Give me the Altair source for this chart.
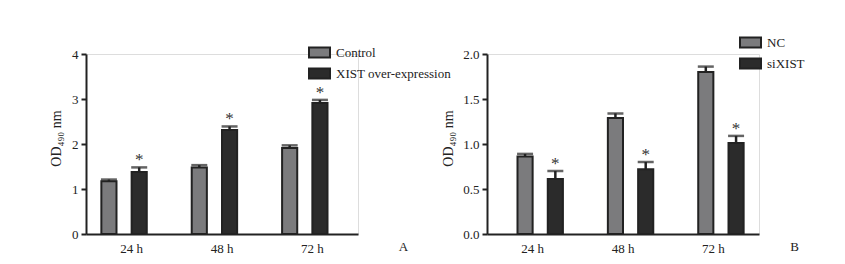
import altair as alt
import pandas as pd

times = ["24 h", "48 h", "72 h"]

# Panel A
a_groups = ["Control", "XIST over-expression"]
a_control = [1.17, 1.48, 1.91]
a_control_err = [0.04, 0.05, 0.06]
a_xist = [1.38, 2.31, 2.91]
a_xist_err = [0.10, 0.08, 0.07]

# Panel B
b_groups = ["NC", "siXIST"]
b_nc = [0.86, 1.29, 1.80]
b_nc_err = [0.03, 0.05, 0.06]
b_si = [0.61, 0.72, 1.01]
b_si_err = [0.09, 0.08, 0.08]

FONT = "Liberation Serif"
TXT = "#222222"
FILLS = ["#7b7b7d", "#2b2b2b"]


def make_df(groups, v1, e1, v2, e2):
    rows = []
    for i, t in enumerate(times):
        rows.append(dict(time=t, group=groups[0], value=v1[i], err=e1[i], top=v1[i] + e1[i], star=""))
        rows.append(dict(time=t, group=groups[1], value=v2[i], err=e2[i], top=v2[i] + e2[i], star="*"))
    return pd.DataFrame(rows)


def panel(df, groups, ymax, ytick, yfmt, legend_x, legend_y, letter, letter_x, ytitle_x):
    x = alt.X("time:N", sort=times,
              scale=alt.Scale(paddingInner=0.33, paddingOuter=0.17),
              axis=alt.Axis(title=letter, labelAngle=0, ticks=False, labelPadding=8,
                            labelFont=FONT, labelFontSize=13, labelColor=TXT,
                            domainColor=TXT, domainWidth=2,
                            titleFont=FONT, titleFontSize=13, titleColor=TXT, titleFontWeight="normal",
                            titleX=letter_x, titleY=12, titleAlign="center", titleBaseline="middle"))
    xo = alt.XOffset("group:N", sort=groups, scale=alt.Scale(paddingInner=0, paddingOuter=0))
    y = alt.Y("value:Q",
              scale=alt.Scale(domain=[0, ymax], nice=False),
              axis=alt.Axis(title="OD₄₉₀ nm", values=ytick, format=yfmt, grid=False,
                            tickSize=5, tickWidth=2, tickColor=TXT, domainColor=TXT, domainWidth=2,
                            labelFont=FONT, labelFontSize=13, labelColor=TXT, labelPadding=3,
                            titleFont=FONT, titleFontSize=14, titleColor=TXT, titleFontWeight="normal",
                            titleX=ytitle_x, titleY=84, titleAlign="center", titleBaseline="middle"))
    color = alt.Color("group:N", sort=groups,
                      scale=alt.Scale(domain=groups, range=FILLS),
                      legend=alt.Legend(title=None, orient="none", legendX=legend_x, legendY=legend_y,
                                        symbolType="M-1,-0.48H1V0.48H-1Z", symbolSize=441,
                                        symbolStrokeColor=TXT, symbolStrokeWidth=2, symbolOpacity=1,
                                        labelFont=FONT, labelFontSize=13, labelColor=TXT,
                                        labelOffset=5, rowPadding=0))
    base = alt.Chart(df)
    bars = base.mark_bar(stroke=TXT, strokeWidth=2).encode(x=x, xOffset=xo, y=y, color=color)
    err = base.mark_rule(color=TXT, strokeWidth=2.5).encode(
        x=x, xOffset=xo, y=alt.Y("value:Q"), y2="top:Q")
    cap = base.mark_tick(color=TXT, thickness=2.5, size=16, orient="horizontal").encode(
        x=x, xOffset=xo, y=alt.Y("top:Q"))
    stars = base.mark_text(font=FONT, fontSize=17, color="#333333", baseline="alphabetic", dy=-2).encode(
        x=x, xOffset=xo, y=alt.Y("top:Q"), text="star:N")
    return alt.layer(bars, err, cap, stars).properties(width=272, height=180)


dfa = make_df(a_groups, a_control, a_control_err, a_xist, a_xist_err)
dfb = make_df(b_groups, b_nc, b_nc_err, b_si, b_si_err)

pa = panel(dfa, a_groups, 4, [0, 1, 2, 3, 4], "d", 222, -13, "A", 317, -30)
pb = panel(dfb, b_groups, 2, [0, 0.5, 1.0, 1.5, 2.0], ".1f", 252, -23, "B", 307, -39)

chart = alt.hconcat(pa, pb, spacing=129, bounds="flush").resolve_scale(
    color="independent", y="independent", x="independent"
).properties(
    padding={"left": 40, "top": 22, "right": 5, "bottom": 5}
).configure_view(stroke=None).configure(background="white")

chart.save("out.html", embed_options={"renderer": "svg", "actions": False})
